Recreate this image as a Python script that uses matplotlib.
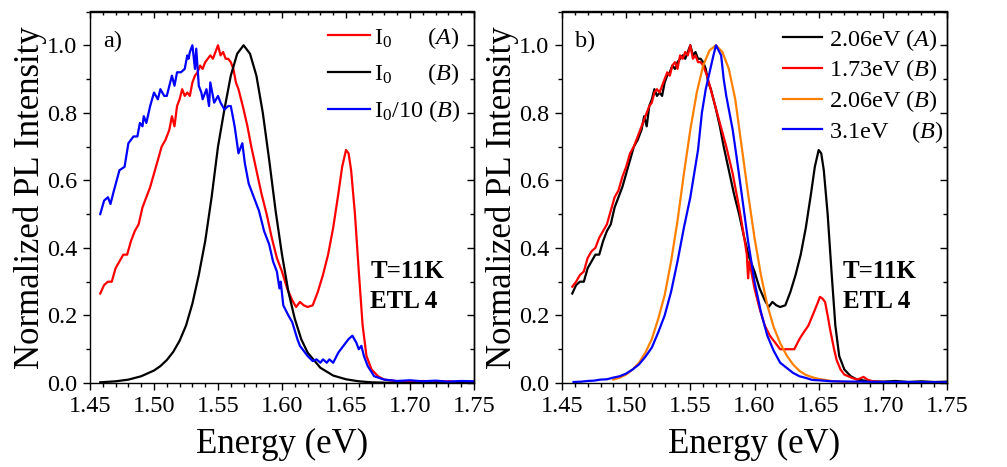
import matplotlib
matplotlib.use("Agg")
import matplotlib.pyplot as plt
from matplotlib.ticker import MultipleLocator, FormatStrFormatter

plt.rcParams['font.family'] = ['Liberation Serif', 'DejaVu Serif']
plt.rcParams['mathtext.fontset'] = 'custom'
plt.rcParams['mathtext.rm'] = 'Liberation Serif'
plt.rcParams['mathtext.it'] = 'Liberation Serif:italic'
plt.rcParams['mathtext.bf'] = 'Liberation Serif:bold'

# ---------------- data ----------------
# Sample A, I0 (2.06 eV excitation) -- used in both panels
energy_A = [1.458, 1.461, 1.464, 1.467, 1.470, 1.473, 1.476, 1.479, 1.482, 1.485,
            1.488, 1.491, 1.494, 1.497, 1.500, 1.503, 1.506, 1.509, 1.512, 1.514,
            1.516, 1.518, 1.520, 1.522, 1.524, 1.526, 1.528, 1.530, 1.532, 1.534,
            1.536, 1.538, 1.540, 1.542, 1.544, 1.546, 1.548, 1.550, 1.552, 1.554,
            1.556, 1.558, 1.560, 1.562, 1.564, 1.566, 1.568, 1.570, 1.573, 1.576,
            1.580, 1.584, 1.588, 1.592, 1.596, 1.600, 1.604, 1.608, 1.611, 1.614,
            1.617, 1.620, 1.624, 1.628, 1.632, 1.636, 1.640, 1.644, 1.647, 1.650,
            1.652, 1.654, 1.657, 1.660, 1.663, 1.666, 1.670, 1.675, 1.680, 1.690,
            1.700, 1.710, 1.720, 1.730, 1.740, 1.750]
I0_A = [0.265, 0.29, 0.30, 0.30, 0.34, 0.36, 0.38, 0.38, 0.42, 0.45,
        0.47, 0.52, 0.55, 0.58, 0.62, 0.66, 0.70, 0.72, 0.75, 0.79,
        0.76, 0.82, 0.84, 0.87, 0.85, 0.86, 0.85, 0.89, 0.91, 0.92,
        0.94, 0.93, 0.95, 0.96, 0.97, 0.96, 0.98, 1.00, 0.97, 0.98,
        0.96, 0.96, 0.95, 0.93, 0.89, 0.87, 0.84, 0.81, 0.76, 0.70,
        0.63, 0.56, 0.50, 0.43, 0.37, 0.33, 0.28, 0.245, 0.225, 0.24,
        0.23, 0.225, 0.23, 0.27, 0.32, 0.38, 0.46, 0.56, 0.64, 0.69,
        0.68, 0.63, 0.50, 0.33, 0.17, 0.08, 0.04, 0.02, 0.01, 0.005,
        0.004, 0.006, 0.003, 0.005, 0.003, 0.004]

# Sample B, I0 (panel a, black)
energy_B_I0 = [1.458, 1.470, 1.480, 1.490, 1.500, 1.505, 1.510, 1.515, 1.520, 1.525,
               1.530, 1.535, 1.540, 1.545, 1.550, 1.555, 1.560, 1.565, 1.570, 1.575,
               1.580, 1.585, 1.590, 1.595, 1.600, 1.605, 1.610, 1.615, 1.620, 1.630,
               1.640, 1.650, 1.660, 1.670, 1.690, 1.750]
I0_B = [0.002, 0.005, 0.010, 0.020, 0.037, 0.050, 0.068, 0.092, 0.125, 0.17,
        0.235, 0.32, 0.42, 0.55, 0.70, 0.81, 0.91, 0.975, 1.00, 0.975,
        0.91, 0.80, 0.66, 0.51, 0.38, 0.27, 0.19, 0.13, 0.09, 0.045,
        0.022, 0.011, 0.005, 0.002, 0.0, 0.0]

# Sample B, I0/10 (panel a, blue)
energy_B_I010 = [1.458, 1.461, 1.464, 1.466, 1.468, 1.473, 1.477, 1.480, 1.484, 1.487,
                 1.489, 1.491, 1.492, 1.494, 1.497, 1.500, 1.503, 1.505, 1.508, 1.510,
                 1.512, 1.514, 1.516, 1.518, 1.521, 1.524, 1.526, 1.527, 1.528, 1.530,
                 1.532, 1.533, 1.535, 1.537, 1.538, 1.541, 1.543, 1.544, 1.547, 1.550,
                 1.552, 1.555, 1.558, 1.560, 1.563, 1.566, 1.569, 1.571, 1.574, 1.578,
                 1.582, 1.586, 1.590, 1.593, 1.596, 1.598, 1.599, 1.601, 1.605, 1.608,
                 1.612, 1.614, 1.620, 1.624, 1.627, 1.630, 1.632, 1.635, 1.637, 1.640,
                 1.644, 1.648, 1.652, 1.655, 1.658, 1.660, 1.662, 1.664, 1.667, 1.672,
                 1.680, 1.690, 1.700, 1.710, 1.720, 1.730, 1.740, 1.750]
I0_B_div10 = [0.50, 0.54, 0.55, 0.53, 0.56, 0.63, 0.64, 0.71, 0.73, 0.73,
              0.77, 0.76, 0.79, 0.77, 0.82, 0.86, 0.84, 0.87, 0.85, 0.85,
              0.88, 0.91, 0.88, 0.92, 0.92, 0.93, 0.97, 0.96, 0.98, 1.00,
              0.93, 0.99, 0.88, 0.86, 0.84, 0.87, 0.82, 0.89, 0.83, 0.85,
              0.83, 0.81, 0.82, 0.82, 0.76, 0.68, 0.71, 0.65, 0.59, 0.55,
              0.51, 0.45, 0.41, 0.36, 0.33, 0.28, 0.30, 0.23, 0.20, 0.18,
              0.13, 0.11, 0.08, 0.065, 0.07, 0.06, 0.07, 0.06, 0.07, 0.06,
              0.09, 0.11, 0.13, 0.14, 0.12, 0.10, 0.11, 0.08, 0.05, 0.02,
              0.01, 0.006, 0.008, 0.005, 0.007, 0.004, 0.006, 0.005]

# Sample B, 1.73 eV excitation (panel b, red)
energy_B_173 = [1.458, 1.461, 1.464, 1.467, 1.470, 1.473, 1.476, 1.479, 1.482, 1.485,
                1.488, 1.491, 1.494, 1.497, 1.500, 1.503, 1.506, 1.509, 1.512, 1.514,
                1.516, 1.518, 1.520, 1.522, 1.524, 1.526, 1.528, 1.530, 1.532, 1.534,
                1.536, 1.538, 1.540, 1.542, 1.544, 1.546, 1.548, 1.550, 1.552, 1.554,
                1.556, 1.558, 1.560, 1.563, 1.568, 1.573, 1.578, 1.583, 1.588, 1.592,
                1.594, 1.595, 1.596, 1.600, 1.604, 1.608, 1.612, 1.616, 1.620, 1.625,
                1.631, 1.635, 1.638, 1.642, 1.646, 1.649, 1.651, 1.653, 1.655, 1.657,
                1.659, 1.662, 1.664, 1.667, 1.670, 1.676, 1.680, 1.685, 1.688, 1.692,
                1.700]
PL_B_173 = [0.285, 0.30, 0.32, 0.33, 0.37, 0.39, 0.40, 0.43, 0.45, 0.47,
            0.51, 0.55, 0.57, 0.61, 0.64, 0.68, 0.70, 0.73, 0.76, 0.78,
            0.80, 0.82, 0.83, 0.86, 0.87, 0.86, 0.88, 0.90, 0.92, 0.91,
            0.94, 0.95, 0.93, 0.97, 0.96, 0.98, 0.97, 1.00, 0.96, 0.97,
            0.95, 0.95, 0.94, 0.91, 0.84, 0.77, 0.70, 0.62, 0.52, 0.43,
            0.38, 0.31, 0.36, 0.28, 0.22, 0.17, 0.14, 0.12, 0.10, 0.10,
            0.10, 0.13, 0.148, 0.17, 0.207, 0.235, 0.255, 0.25, 0.24, 0.20,
            0.157, 0.10, 0.068, 0.04, 0.025, 0.015, 0.01, 0.018, 0.01, 0.005,
            0.003]

# Sample B, 2.06 eV excitation (panel b, orange)
energy_B_206 = [1.490, 1.495, 1.500, 1.505, 1.510, 1.515, 1.520, 1.525, 1.530, 1.535,
                1.540, 1.545, 1.550, 1.555, 1.560, 1.565, 1.570, 1.575, 1.580, 1.585,
                1.590, 1.595, 1.600, 1.605, 1.610, 1.615, 1.620, 1.625, 1.630, 1.635,
                1.640, 1.645, 1.650, 1.660, 1.670, 1.680]
PL_B_206 = [0.010, 0.016, 0.025, 0.040, 0.060, 0.09, 0.13, 0.19, 0.26, 0.36,
            0.48, 0.62, 0.75, 0.86, 0.94, 0.985, 1.00, 0.98, 0.93, 0.84,
            0.70, 0.56, 0.43, 0.32, 0.23, 0.165, 0.118, 0.082, 0.055, 0.036,
            0.024, 0.017, 0.012, 0.006, 0.003, 0.002]

# Sample B, 3.1 eV excitation (panel b, blue)
energy_B_31 = [1.459, 1.465, 1.470, 1.475, 1.480, 1.485, 1.490, 1.495, 1.500, 1.505,
               1.510, 1.515, 1.520, 1.525, 1.530, 1.535, 1.540, 1.545, 1.550, 1.553,
               1.556, 1.559, 1.562, 1.565, 1.568, 1.570, 1.572, 1.574, 1.576, 1.578,
               1.580, 1.583, 1.586, 1.590, 1.595, 1.600, 1.605, 1.610, 1.615, 1.620,
               1.625, 1.630, 1.635, 1.640, 1.645, 1.650, 1.660, 1.680, 1.700, 1.720,
               1.750]
PL_B_31 = [0.003, 0.004, 0.006, 0.007, 0.010, 0.011, 0.016, 0.020, 0.028, 0.040,
           0.055, 0.078, 0.105, 0.15, 0.20, 0.27, 0.36, 0.46, 0.55, 0.62,
           0.69, 0.80, 0.87, 0.92, 0.97, 1.00, 0.985, 0.97, 0.90, 0.85,
           0.81, 0.75, 0.67, 0.56, 0.42, 0.30, 0.21, 0.14, 0.095, 0.06,
           0.045, 0.03, 0.02, 0.015, 0.009, 0.008, 0.005, 0.004, 0.003, 0.003,
           0.002]

labels_a = [r"I$_0$      $\mathit{(A)}$", r"I$_0$      $\mathit{(B)}$", r"I$_0$/10 $\mathit{(B)}$"]
labels_b = [r"2.06eV $\mathit{(A)}$", r"1.73eV $\mathit{(B)}$", r"2.06eV $\mathit{(B)}$", r"3.1eV    $\mathit{(B)}$"]

RED, BLACK, BLUE, ORANGE = "#ff0000", "#000000", "#0000ff", "#ff8000"

# ---------------- figure ----------------
fig = plt.figure(figsize=(10.07, 4.67), dpi=100)
ax_a = fig.add_axes([90/1007, 1-383/467, 384/1007, 371.5/467])
ax_b = fig.add_axes([562/1007, 1-383/467, 385/1007, 371.5/467])

lw = 1.6
ax_a.plot(energy_A, I0_A, color=RED, lw=lw, label=labels_a[0])
ax_a.plot(energy_B_I0, I0_B, color=BLACK, lw=lw, label=labels_a[1])
ax_a.plot(energy_B_I010, I0_B_div10, color=BLUE, lw=lw, label=labels_a[2])

ax_b.plot(energy_A, I0_A, color=BLACK, lw=lw, label=labels_b[0])
ax_b.plot(energy_B_173, PL_B_173, color=RED, lw=lw, label=labels_b[1])
ax_b.plot(energy_B_206, PL_B_206, color=ORANGE, lw=lw, label=labels_b[2])
ax_b.plot(energy_B_31, PL_B_31, color=BLUE, lw=lw, label=labels_b[3])


def set_locators(axis_obj, major, minor):
    axis_obj.set_major_locator(MultipleLocator(major))
    axis_obj.set_minor_locator(MultipleLocator(minor))


for ax, tag in ((ax_a, "a)"), (ax_b, "b)")):
    ax.set_xlim(1.45, 1.75)
    ax.set_ylim(0.0, 1.1)
    set_locators(ax.xaxis, 0.05, 0.01)
    set_locators(ax.yaxis, 0.2, 0.1)
    ax.xaxis.set_major_formatter(FormatStrFormatter('%.2f'))
    ax.yaxis.set_major_formatter(FormatStrFormatter('%.1f'))
    ax.tick_params(which='both', direction='out', labelsize=17.5, width=1.0,
                   top=False, right=False)
    ax.tick_params(which='major', length=5, pad=4)
    ax.tick_params(which='minor', length=3)
    for sp in ax.spines.values():
        sp.set_linewidth(1.0)
    # inward ticks on top and right
    sx = ax.secondary_xaxis('top')
    set_locators(sx.xaxis, 0.05, 0.01)
    sx.tick_params(which='both', direction='in', labeltop=False, width=1.0)
    sx.tick_params(which='major', length=5)
    sx.tick_params(which='minor', length=3)
    sy = ax.secondary_yaxis('right')
    set_locators(sy.yaxis, 0.2, 0.1)
    sy.tick_params(which='both', direction='in', labelright=False, width=1.0)
    sy.tick_params(which='major', length=5)
    sy.tick_params(which='minor', length=3)
    for s in (sx, sy):
        for sp in s.spines.values():
            sp.set_linewidth(1.0)

    ax.set_xlabel("Energy (eV)", fontsize=25, labelpad=8)
    ax.set_ylabel("Normalized PL Intensity", fontsize=25, labelpad=0)
    ax.text(0.035, 0.92, tag, transform=ax.transAxes, fontsize=17.5, va='center', ha='left')
    ax.text(0.73, 0.33 / 1.1, "T=11K", transform=ax.transAxes,
            fontsize=18, fontweight='bold', va='center', ha='left')
    ax.text(0.73, 0.24 / 1.1, "ETL 4", transform=ax.transAxes,
            fontsize=18, fontweight='bold', va='center', ha='left')

ax_a.legend(loc='upper right', bbox_to_anchor=(1.0, 1.0), frameon=False, fontsize=17.5,
            handlelength=1.7, handletextpad=0.2, labelspacing=0.44, borderaxespad=0.35,
            borderpad=0.2)
ax_b.legend(loc='upper right', bbox_to_anchor=(1.031, 1.0), frameon=False, fontsize=17.5,
            handlelength=1.6, handletextpad=0.3, labelspacing=0.2, borderaxespad=0.42,
            borderpad=0.2)

fig.savefig("out.png", dpi=100)
